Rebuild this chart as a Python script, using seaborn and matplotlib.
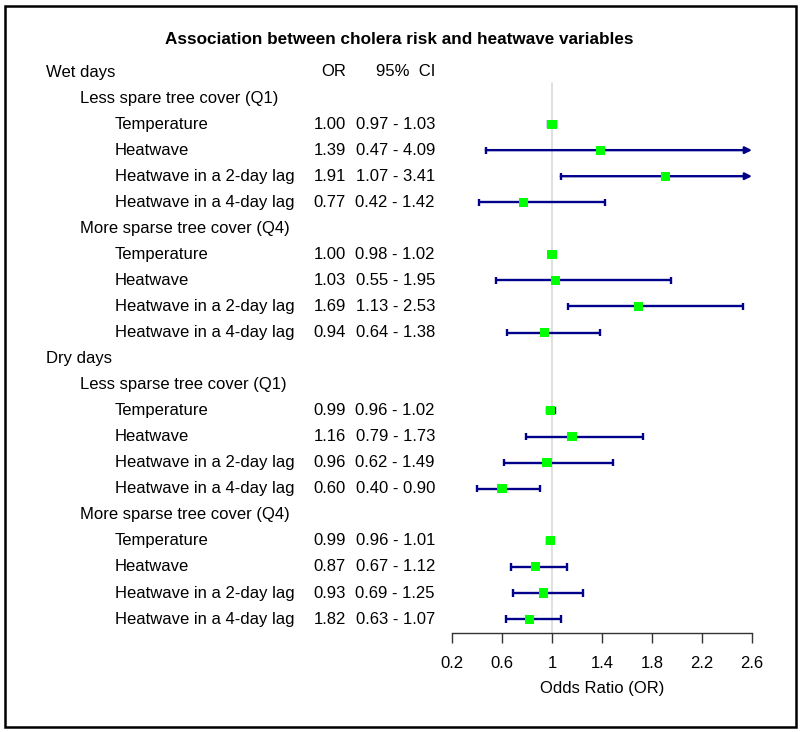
import matplotlib
matplotlib.use("Agg")
import matplotlib.pyplot as plt
import matplotlib.transforms as mtransforms
import matplotlib.patches as mpatches
import numpy as np
import pandas as pd
import seaborn as sns

sns.set_style("white")
plt.rcParams['font.family'] = ['Liberation Sans', 'DejaVu Sans']
plt.rcParams['text.color'] = 'black'
plt.rcParams['axes.labelcolor'] = 'black'
plt.rcParams['xtick.color'] = 'black'

# ---------------- data ----------------
labels = ["Wet days", "Less spare tree cover (Q1)",
          "Temperature", "Heatwave", "Heatwave in a 2-day lag", "Heatwave in a 4-day lag",
          "More sparse tree cover (Q4)",
          "Temperature", "Heatwave", "Heatwave in a 2-day lag", "Heatwave in a 4-day lag",
          "Dry days", "Less sparse tree cover (Q1)",
          "Temperature", "Heatwave", "Heatwave in a 2-day lag", "Heatwave in a 4-day lag",
          "More sparse tree cover (Q4)",
          "Temperature", "Heatwave", "Heatwave in a 2-day lag", "Heatwave in a 4-day lag"]
levels = [0, 1, 2, 2, 2, 2, 1, 2, 2, 2, 2, 0, 1, 2, 2, 2, 2, 1, 2, 2, 2, 2]
or_text = ["OR", "", "1.00", "1.39", "1.91", "0.77", "", "1.00", "1.03", "1.69", "0.94",
           "", "", "0.99", "1.16", "0.96", "0.60", "", "0.99", "0.87", "0.93", "1.82"]
ci_text = ["95%  CI", "", "0.97 - 1.03", "0.47 - 4.09", "1.07 - 3.41", "0.42 - 1.42", "",
           "0.98 - 1.02", "0.55 - 1.95", "1.13 - 2.53", "0.64 - 1.38", "", "",
           "0.96 - 1.02", "0.79 - 1.73", "0.62 - 1.49", "0.40 - 0.90", "",
           "0.96 - 1.01", "0.67 - 1.12", "0.69 - 1.25", "0.63 - 1.07"]
or_plot = [np.nan, np.nan, 1.00, 1.39, 1.91, 0.77, np.nan, 1.00, 1.03, 1.69, 0.94,
           np.nan, np.nan, 0.99, 1.16, 0.96, 0.60, np.nan, 0.99, 0.87, 0.93, 0.82]
ci_low = [np.nan, np.nan, 0.97, 0.47, 1.07, 0.42, np.nan, 0.98, 0.55, 1.13, 0.64,
          np.nan, np.nan, 0.96, 0.79, 0.62, 0.40, np.nan, 0.96, 0.67, 0.69, 0.63]
ci_high = [np.nan, np.nan, 1.03, 4.09, 3.41, 1.42, np.nan, 1.02, 1.95, 2.53, 1.38,
           np.nan, np.nan, 1.02, 1.73, 1.49, 0.90, np.nan, 1.01, 1.12, 1.25, 1.07]
xticks = [0.2, 0.6, 1.0, 1.4, 1.8, 2.2, 2.6]
xticklabels = ["0.2", "0.6", "1", "1.4", "1.8", "2.2", "2.6"]

df = pd.DataFrame({"row": np.arange(len(labels)), "OR": or_plot,
                   "lo": ci_low, "hi": ci_high})
dfp = df.dropna()

# ---------------- layout ----------------
W, H = 800, 732
fig = plt.figure(figsize=(W / 100, H / 100), dpi=100)

x0_px, x1_px = 452, 752
row0_px, row_step = 72, 26.05
top_px, bot_px = 60, 633
ax = fig.add_axes([x0_px / W, 1 - bot_px / H, (x1_px - x0_px) / W, (bot_px - top_px) / H])
ax.set_xlim(0.2, 2.6)
ax.set_ylim((bot_px - row0_px) / row_step, (top_px - row0_px) / row_step)

navy = "#00008B"
lime = "#00FF00"
FS = 12

# reference line
ax.axvline(1.0, ymin=0, ymax=(bot_px - 83) / (bot_px - top_px), color="#d9d9d9", lw=1.2, zorder=0)

xmax = 2.6
for _, r in dfp.iterrows():
    hi = min(r.hi, xmax)
    if r.hi > xmax:
        ax.annotate("", xy=(xmax, r.row), xytext=(r.lo, r.row),
                    arrowprops=dict(arrowstyle="-|>", color=navy, lw=1.7,
                                    mutation_scale=10, shrinkA=0, shrinkB=0), zorder=2)
        ax.vlines(r.lo, r.row - 0.14, r.row + 0.14, color=navy, lw=1.7, zorder=2)
    else:
        ax.hlines(r.row, r.lo, hi, color=navy, lw=1.7, zorder=2)
        ax.vlines([r.lo, hi], r.row - 0.14, r.row + 0.14, color=navy, lw=1.7, zorder=2)

sns.scatterplot(data=dfp, x="OR", y="row", marker="s", color=lime, s=42,
                edgecolor="none", linewidth=0, ax=ax, zorder=3, legend=False)

sns.despine(ax=ax, left=True, top=True, right=True)
ax.spines["bottom"].set_bounds(0.2, 2.6)
ax.spines["bottom"].set_color("#333333")
ax.spines["bottom"].set_linewidth(1.0)
ax.set_yticks([])
ax.set_xticks(xticks)
ax.set_xticklabels(xticklabels, fontsize=FS)
ax.tick_params(axis="x", bottom=True, direction="out", length=7.5, width=1.0,
               color="#333333", labelcolor="black", pad=9)
ax.set_xlabel("Odds Ratio (OR)", fontsize=FS, labelpad=7, color="black")
ax.set_ylabel("")
ax.patch.set_alpha(0)

# ---------------- table text ----------------
trans = mtransforms.blended_transform_factory(fig.transFigure, ax.transData)
level_x = [46, 80, 115]
for i, lab in enumerate(labels):
    ax.text(level_x[levels[i]] / W, i, lab, transform=trans, fontsize=FS,
            ha="left", va="center", clip_on=False, color="black")
    if or_text[i]:
        ax.text(346 / W, i, or_text[i], transform=trans, fontsize=FS,
                ha="right", va="center", clip_on=False, color="black")
    if ci_text[i]:
        ax.text(435 / W, i, ci_text[i], transform=trans, fontsize=FS,
                ha="right", va="center", clip_on=False, color="black")

fig.text(399 / W, 1 - 40 / H, "Association between cholera risk and heatwave variables",
         ha="center", va="center", fontsize=12.3, fontweight="bold", color="black")

# border
fig.patches.append(mpatches.Rectangle((5 / W, 5 / H), 791 / W, 721 / H, transform=fig.transFigure,
                                      fill=False, edgecolor="black", lw=1.8))

fig.savefig("out.png", dpi=100)
